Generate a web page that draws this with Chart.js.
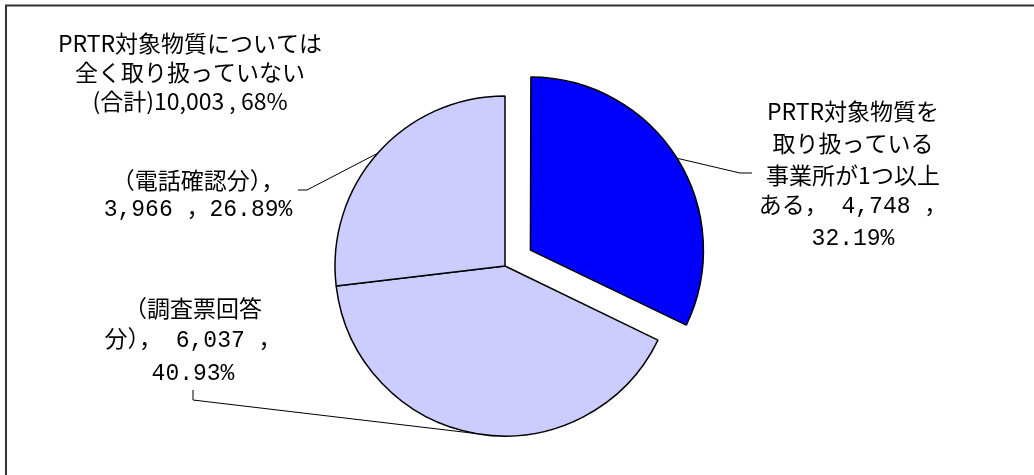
<!DOCTYPE html>
<html>
<head>
<meta charset="utf-8">
<script src="https://cdn.jsdelivr.net/npm/chart.js@4"></script>
<style>
  html, body { margin: 0; padding: 0; background: #fff; }
  #wrap { width: 1034px; height: 475px; position: relative; }
</style>
</head>
<body>
<div id="wrap"><canvas id="myChart"></canvas></div>
<script>
const categories = ['PRTR対象物質を取り扱っている事業所が1つ以上ある', '（調査票回答分）', '（電話確認分）']
const values = [4748, 6037, 3966]

let total = values.reduce((a, b) => a + b, 0)
let fmt = v => v.toLocaleString('en-US')
let pct = v => (v / total * 100).toFixed(2) + '%'

// text of the data labels, one array per slice
const labelLines = [
    ['PRTR対象物質を', '取り扱っている', '事業所が1つ以上', 'ある， ' + fmt(values[0]) + ' ，', pct(values[0])],
    ['（調査票回答', '分）， ' + fmt(values[1]) + ' ，', pct(values[1])],
    ['（電話確認分），', fmt(values[2]) + ' ，' + pct(values[2])]
]
let notHandled = values[1] + values[2]
const titleLines = ['PRTR対象物質については', '全く取り扱っていない',
    '(合計)' + fmt(notHandled) + ' , ' + Math.round(notHandled / total * 100) + '%']

// where each label sits and where its leader line ends
let labelPos = [
    { x: 853, y: 111, lh: 32, leader: [[740, 173], [752, 173]] },
    { x: 193, y: 308, lh: 33, leader: [[193, 400], [193, 390]] },
    { x: 198, y: 180, lh: 30, leader: [[307, 190], [298, 190]] }
]

let monoFont = '23px "Liberation Mono", "Noto Sans CJK JP", sans-serif'
let sansFont = '23px "Noto Sans CJK JP", sans-serif'

let labelPlugin = {
    id: 'labels',
    beforeDraw(chart) {
        let c = chart.ctx
        c.save()
        c.strokeStyle = '#333'
        c.lineWidth = 2
        c.strokeRect(6, 5.5, 1200, 600)
        c.restore()
    },
    afterDatasetsDraw(chart) {
        let c = chart.ctx
        let meta = chart.getDatasetMeta(0)
        c.save()
        meta.data.forEach((arc, i) => {
            let p = arc.getProps(['x', 'y', 'startAngle', 'endAngle', 'outerRadius', 'circumference'])
            let mid = (p.startAngle + p.endAngle) / 2
            let off = (arc.options.offset || 0) / 4
            let shift = off * (2 - Math.sin(Math.min(Math.PI, p.circumference)))
            let r = p.outerRadius + shift
            let pos = labelPos[i]
            c.strokeStyle = '#000'
            c.lineWidth = 1
            c.beginPath()
            c.moveTo(p.x + Math.cos(mid) * r, p.y + Math.sin(mid) * r)
            pos.leader.forEach(pt => c.lineTo(pt[0], pt[1]))
            c.stroke()

            c.fillStyle = '#000'
            c.textAlign = 'center'
            c.textBaseline = 'middle'
            labelLines[i].forEach((line, j) => {
                c.font = /\d[,.]\d/.test(line) ? monoFont : sansFont
                c.fillText(line, pos.x, pos.y + j * pos.lh)
            })
        })
        c.font = sansFont
        titleLines.forEach((line, j) => c.fillText(line, 190, 43 + j * 29))
        c.restore()
    }
}

let graphData = {
    type: 'pie',
    data: {
        labels: categories,
        datasets: [{
            data: values,
            backgroundColor: ['#0000ff', '#ccccff', '#ccccff'],
            borderColor: '#000',
            borderWidth: 1.5,
            offset: [120, 0, 0]
        }]
    },
    options: {
        responsive: true,
        maintainAspectRatio: false,
        animation: false,
        radius: 170,
        layout: { padding: { top: 57, right: 24, left: 0, bottom: 0 } },
        plugins: {
            legend: { display: false },
            tooltip: { enabled: false }
        }
    },
    plugins: [labelPlugin]
}

let myChart = new Chart(document.querySelector('#myChart'), graphData)
</script>
</body>
</html>
